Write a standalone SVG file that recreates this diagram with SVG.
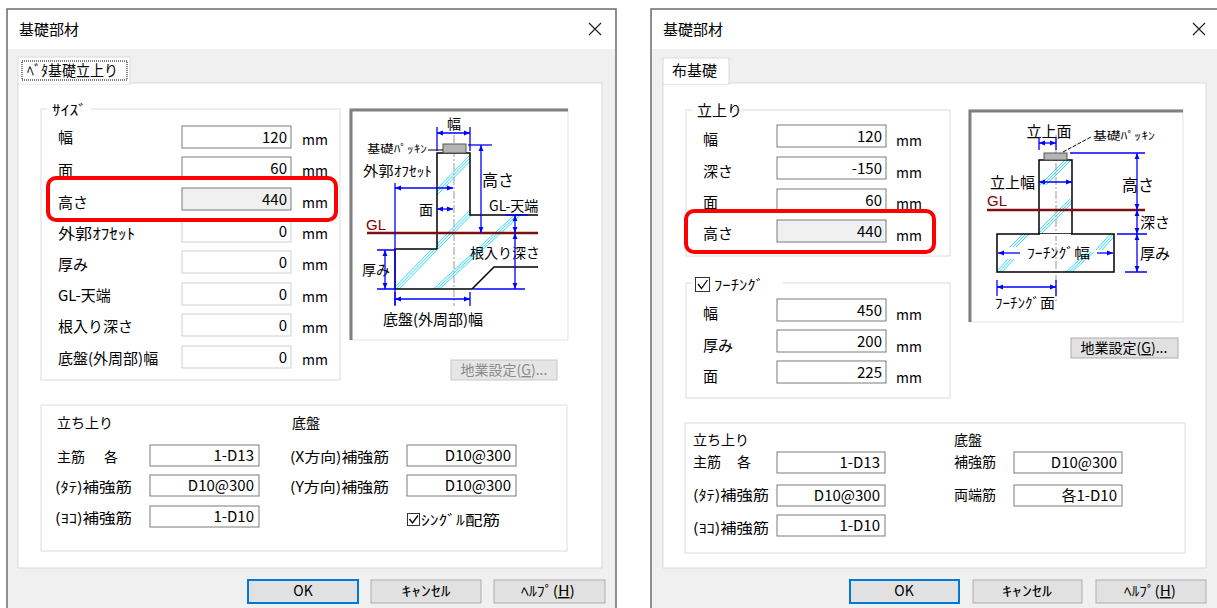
<svg xmlns="http://www.w3.org/2000/svg" width="1217" height="608" viewBox="0 0 1217 608">
<style>
.t{font-family:"Noto Sans CJK JP","Noto Sans CJK SC",sans-serif;font-size:15px;fill:#000}
.s{font-size:14px}
.xs{font-size:11px}
.v{text-anchor:end}
.c{text-anchor:middle}
.gr{fill:#8a8a8a}
.gl{fill:#800000;font-family:"Liberation Sans",sans-serif;font-size:15px}
.box{fill:#fff;stroke:#7a7a7a;stroke-width:1}
.boxd{fill:#fff;stroke:#cfcfcf;stroke-width:1}
.boxg{fill:#f0f0f0;stroke:#7a7a7a;stroke-width:1}
.grp{fill:none;stroke:#dcdcdc;stroke-width:1}
.btn{fill:#e1e1e1;stroke:#adadad;stroke-width:1}
.dim{stroke:#0000ff;stroke-width:1.3;fill:none}
.da{stroke:#0000ff;stroke-width:1.3;fill:none;marker-start:url(#ah);marker-end:url(#ah)}
.d1{stroke:#0000ff;stroke-width:1.3;fill:none;marker-end:url(#ah)}
.obj{stroke:#000;stroke-width:1.5;fill:none}
.h{stroke:#30dcff;stroke-width:1}
.red{fill:none;stroke:#ff0000;stroke-width:4}
.ctr{stroke:#999;stroke-width:1;stroke-dasharray:8,2,2,2}
.glline{stroke:#7a1010;stroke-width:2.5}
.pk{fill:#b4b4b4;stroke:#555;stroke-width:1}
</style>
<defs>
<marker id="ah" viewBox="0 0 10 10" refX="10" refY="5" markerWidth="6" markerHeight="6" orient="auto-start-reverse" markerUnits="userSpaceOnUse"><path d="M0,1 L10,5 L0,9 z" fill="#0000ff"/></marker>
<clipPath id="clipL"><polygon points="437,153 470,153 470,215 538,215 538,267 494,267 472,289 395,289 395,249 437,249"/></clipPath>
<clipPath id="clipR"><polygon points="1039,160 1072,160 1072,234 1114,234 1114,272 997,272 997,234 1039,234"/></clipPath>
</defs>
<rect x="0" y="0" width="1217" height="608" fill="#fff"/>

<!-- LEFT DIALOG -->
<g id="dialog-left">
<rect x="7" y="9" width="609" height="610" fill="#f0f0f0" stroke="#6e6e6e" stroke-width="1.5"/>
<rect x="8" y="10" width="607" height="39" fill="#fff"/>
<text class="t" x="19" y="35">基礎部材</text>
<path d="M589,23 L601,35 M601,23 L589,35" stroke="#222" stroke-width="1.2"/>
<rect x="18" y="83" width="584" height="485" fill="#fff" stroke="#d9d9d9"/>
<g id="tab-left">
<rect x="18" y="57" width="112" height="27" fill="#fff" stroke="#d9d9d9"/>
<line x1="19" y1="83" x2="129" y2="83" stroke="#fff" stroke-width="1.5"/>
<rect x="22" y="61" width="105" height="19" fill="none" stroke="#000" stroke-dasharray="1,1"/>
<text class="t" x="27" y="76" textLength="91" lengthAdjust="spacingAndGlyphs">ﾍﾞﾀ基礎立上り</text>
</g>

<g id="size-group">
<rect class="grp" x="41" y="109" width="299" height="271"/>
<rect x="47" y="102" width="44" height="14" fill="#fff"/>
<text class="t s" x="52" y="115" textLength="35" lengthAdjust="spacingAndGlyphs">ｻｲｽﾞ</text>
</g>
<g id="f-haba"><text class="t" x="58" y="143">幅</text><rect class="box" x="182" y="126" width="109" height="22"/><text class="t v" x="287" y="143">120</text><text class="t s" x="302" y="145">mm</text></g>
<g id="f-men"><text class="t" x="58" y="176">面</text><rect class="box" x="182" y="157" width="109" height="22"/><text class="t v" x="287" y="174">60</text><text class="t s" x="302" y="176">mm</text></g>
<g id="f-takasa"><text class="t" x="58" y="208">高さ</text><rect class="boxg" x="182" y="188" width="109" height="22"/><text class="t v" x="287" y="205">440</text><text class="t s" x="302" y="208">mm</text></g>
<g id="f-offset"><text class="t" x="58" y="239" textLength="77" lengthAdjust="spacingAndGlyphs">外郭ｵﾌｾｯﾄ</text><rect class="boxd" x="182" y="220" width="109" height="22"/><text class="t v" x="287" y="237" fill="#444">0</text><text class="t s" x="302" y="239">mm</text></g>
<g id="f-atsumi"><text class="t" x="58" y="270">厚み</text><rect class="boxd" x="182" y="251" width="109" height="22"/><text class="t v" x="287" y="268" fill="#444">0</text><text class="t s" x="302" y="270">mm</text></g>
<g id="f-gl"><text class="t" x="58" y="301">GL-天端</text><rect class="boxd" x="182" y="283" width="109" height="22"/><text class="t v" x="287" y="300" fill="#444">0</text><text class="t s" x="302" y="302">mm</text></g>
<g id="f-neiri"><text class="t" x="58" y="332">根入り深さ</text><rect class="boxd" x="182" y="314" width="109" height="22"/><text class="t v" x="287" y="331" fill="#444">0</text><text class="t s" x="302" y="333">mm</text></g>
<g id="f-teiban"><text class="t" x="58" y="364">底盤(外周部)幅</text><rect class="boxd" x="182" y="346" width="109" height="22"/><text class="t v" x="287" y="363" fill="#444">0</text><text class="t s" x="302" y="365">mm</text></g>
<rect id="highlight-left" class="red" x="48" y="178" width="288" height="42" rx="8"/>

<g id="diagram-left">
<rect x="350" y="109" width="218" height="231" fill="#fff" stroke="#e3e3e3"/>
<path d="M351,340 L351,110 L568,110" fill="none" stroke="#808080" stroke-width="3"/>
<g clip-path="url(#clipL)">
<path class="h" d="M430,196 L475,150 M433,196 L478,150 M436,196 L481,150"/>
<path class="h" d="M390,292 L478,202 M393,292 L481,202 M396,292 L484,202"/>
<path class="h" d="M428,294 L520,210 M431,294 L523,210 M434,294 L526,210"/>
</g>
<line class="ctr" x1="454" y1="135" x2="454" y2="306"/>
<polyline class="obj" points="437,249 437,153 470,153 470,215 538,215"/>
<polyline class="obj" points="437,249 395,249 395,289 472,289 494,267 538,267"/>
<rect class="pk" x="443" y="144" width="23" height="9"/>
<line x1="367" y1="233" x2="538" y2="233" class="glline"/>
<text class="gl" x="366" y="230">GL</text>
<text class="t xs" x="367" y="153" textLength="60" lengthAdjust="spacingAndGlyphs">基礎ﾊﾟｯｷﾝ</text>
<line x1="428" y1="150" x2="443" y2="150" stroke="#000" stroke-width="1"/>
<path class="dim" d="M437,127 L437,151 M470,127 L470,151"/>
<line class="da" x1="437" y1="133" x2="470" y2="133"/>
<text class="t s c" x="454" y="129">幅</text>
<path class="dim" d="M468,145 L492,145"/>
<line class="da" x1="481" y1="145" x2="481" y2="233"/>
<text class="t" x="482" y="186" style="font-size:16px">高さ</text>
<text class="t s" x="363" y="176" textLength="69" lengthAdjust="spacingAndGlyphs">外郭ｵﾌｾｯﾄ</text>
<path class="dim" d="M395,183 L395,305"/>
<line class="da" x1="395" y1="188" x2="453" y2="188"/>
<text class="t s" x="419" y="215">面</text>
<line class="da" x1="437" y1="209" x2="453" y2="209"/>
<text class="t s" x="489" y="211">GL-天端</text>
<path class="dim" d="M505,215 L528,215"/>
<line class="da" x1="515" y1="215" x2="515" y2="233"/>
<text class="t s" x="470" y="258">根入り深さ</text>
<path class="dim" d="M473,289 L525,289"/>
<line class="da" x1="515" y1="233" x2="515" y2="289"/>
<text class="t s" x="362" y="275">厚み</text>
<path class="dim" d="M377,250 L395,250 M377,289 L395,289"/>
<line class="da" x1="385" y1="250" x2="385" y2="289"/>
<path class="dim" d="M395,292 L395,306 M470,292 L470,306"/>
<line class="da" x1="395" y1="299" x2="470" y2="299"/>
<text class="t c" x="433" y="325">底盤(外周部)幅</text>
</g>
<g id="btn-jigyo-left">
<rect x="451" y="360" width="106" height="20" fill="#e6e6e6" stroke="#c8c8c8"/>
<text class="t s c gr" x="504" y="375">地業設定(<tspan text-decoration="underline">G</tspan>)...</text>
</g>

<g id="rebar-group-left">
<rect class="grp" x="41" y="405" width="526" height="146"/>
<text class="t s" x="57" y="428">立ち上り</text>
<text class="t s" x="292" y="428">底盤</text>
<g id="f-shukin-l"><text class="t s" x="57" y="462">主筋 <tspan x="104">各</tspan></text><rect class="box" x="150" y="445" width="109" height="21"/><text class="t v" x="254" y="461">1-D13</text></g>
<g id="f-tate-l"><text class="t s" x="55" y="492" textLength="77" lengthAdjust="spacingAndGlyphs">(ﾀﾃ)補強筋</text><rect class="box" x="150" y="475" width="109" height="21"/><text class="t v" x="254" y="491">D10@300</text></g>
<g id="f-yoko-l"><text class="t s" x="55" y="523" textLength="77" lengthAdjust="spacingAndGlyphs">(ﾖｺ)補強筋</text><rect class="box" x="150" y="506" width="109" height="21"/><text class="t v" x="254" y="522">1-D10</text></g>
<g id="f-x-l"><text class="t s" x="290" y="462" textLength="99" lengthAdjust="spacingAndGlyphs">(X方向)補強筋</text><rect class="box" x="407" y="445" width="109" height="21"/><text class="t v" x="511" y="461">D10@300</text></g>
<g id="f-y-l"><text class="t s" x="290" y="492" textLength="99" lengthAdjust="spacingAndGlyphs">(Y方向)補強筋</text><rect class="box" x="407" y="475" width="109" height="21"/><text class="t v" x="511" y="491">D10@300</text></g>
<g id="f-single"><rect x="407.5" y="513.5" width="12" height="12" fill="#fff" stroke="#333"/><path d="M409.5,519 L412.5,523 L418,515.5" fill="none" stroke="#000" stroke-width="1.3"/><text class="t s" x="421" y="525" textLength="79" lengthAdjust="spacingAndGlyphs">ｼﾝｸﾞﾙ配筋</text></g>
</g>
<g id="buttons-left">
<rect x="248" y="580" width="110" height="23" fill="#e1e1e1" stroke="#0078d7" stroke-width="2"/>
<text class="t s c" x="303" y="596">OK</text>
<rect class="btn" x="371" y="580" width="110" height="23"/>
<text class="t s c" x="426" y="596" textLength="49" lengthAdjust="spacingAndGlyphs">ｷｬﾝｾﾙ</text>
<rect class="btn" x="494" y="580" width="111" height="23"/>
<text class="t s c" x="548" y="596" textLength="54" lengthAdjust="spacingAndGlyphs">ﾍﾙﾌﾟ(<tspan text-decoration="underline">H</tspan>)</text>
</g>
</g>

<!-- RIGHT DIALOG -->
<g id="dialog-right">
<rect x="651" y="9" width="600" height="610" fill="#f0f0f0" stroke="#6e6e6e" stroke-width="1.5"/>
<rect x="652" y="10" width="598" height="39" fill="#fff"/>
<text class="t" x="663" y="35">基礎部材</text>
<path d="M1193,23 L1205,35 M1205,23 L1193,35" stroke="#222" stroke-width="1.2"/>
<rect x="663" y="83" width="543" height="485" fill="#fff" stroke="#d9d9d9"/>
<g id="tab-right">
<rect x="663" y="58" width="66" height="26" fill="#fff" stroke="#d9d9d9"/>
<line x1="664" y1="83" x2="728" y2="83" stroke="#fff" stroke-width="1.5"/>
<text class="t" x="672" y="76">布基礎</text>
</g>

<g id="tachiagari-group">
<rect class="grp" x="686" y="110" width="264" height="146"/>
<rect x="692" y="102" width="42" height="16" fill="#fff"/>
<text class="t" x="697" y="116">立上り</text>
</g>
<g id="r-haba"><text class="t" x="703" y="145">幅</text><rect class="box" x="777" y="125" width="109" height="22"/><text class="t v" x="882" y="142">120</text><text class="t s" x="896" y="146">mm</text></g>
<g id="r-fukasa"><text class="t" x="703" y="177">深さ</text><rect class="box" x="777" y="157" width="109" height="22"/><text class="t v" x="882" y="174">-150</text><text class="t s" x="896" y="178">mm</text></g>
<g id="r-men"><text class="t" x="703" y="208">面</text><rect class="box" x="777" y="189" width="109" height="22"/><text class="t v" x="882" y="206">60</text><text class="t s" x="896" y="209">mm</text></g>
<g id="r-takasa"><text class="t" x="703" y="239">高さ</text><rect class="boxg" x="777" y="220" width="109" height="22"/><text class="t v" x="882" y="237">440</text><text class="t s" x="896" y="241">mm</text></g>
<rect id="highlight-right" class="red" x="686" y="211" width="248" height="41" rx="8"/>

<g id="footing-group">
<rect class="grp" x="686" y="283" width="264" height="115"/>
<rect x="692" y="274" width="91" height="18" fill="#fff"/>
<rect x="695.5" y="277.5" width="14" height="14" fill="#fff" stroke="#333"/>
<path d="M698,284 L701.5,288.5 L707.5,280" fill="none" stroke="#000" stroke-width="1.3"/>
<text class="t s" x="714" y="290" textLength="50" lengthAdjust="spacingAndGlyphs">ﾌｰﾁﾝｸﾞ</text>
</g>
<g id="r-f-haba"><text class="t" x="703" y="319">幅</text><rect class="box" x="777" y="299" width="109" height="22"/><text class="t v" x="882" y="316">450</text><text class="t s" x="896" y="320">mm</text></g>
<g id="r-f-atsumi"><text class="t" x="703" y="351">厚み</text><rect class="box" x="777" y="330" width="109" height="22"/><text class="t v" x="882" y="347">200</text><text class="t s" x="896" y="352">mm</text></g>
<g id="r-f-men"><text class="t" x="703" y="382">面</text><rect class="box" x="777" y="361" width="109" height="22"/><text class="t v" x="882" y="378">225</text><text class="t s" x="896" y="383">mm</text></g>

<g id="diagram-right">
<rect x="969" y="110" width="214" height="212" fill="#fff" stroke="#e3e3e3"/>
<path d="M970,322 L970,111 L1183,111" fill="none" stroke="#808080" stroke-width="3"/>
<g clip-path="url(#clipR)">
<path class="h" d="M1040,185 L1070,155 M1043,185 L1073,155 M1046,185 L1076,155"/>
<path class="h" d="M1036,233 L1070,199 M1039,233 L1073,199 M1042,233 L1076,199"/>
<path class="h" d="M1010,247 L1026,231 M1013,247 L1029,231 M1016,247 L1032,231"/>
<path class="h" d="M1096,250 L1112,232 M1099,250 L1115,232 M1102,250 L1118,232"/>
<path class="h" d="M996,272 L1008,259 M999,272 L1011,259 M1002,272 L1014,259"/>
<path class="h" d="M1066,272 L1088,252 M1069,272 L1091,252 M1072,272 L1094,252"/>
</g>
<line class="ctr" x1="1056" y1="135" x2="1056" y2="302"/>
<polyline class="obj" points="1039,234 1039,160 1072,160 1072,234"/>
<polygon class="obj" points="997,234 1114,234 1114,272 997,272"/>
<rect x="1040" y="234" width="31" height="2" fill="#fff"/>
<rect class="pk" x="1044" y="153" width="23" height="7"/>
<line x1="987" y1="210" x2="1145" y2="210" class="glline"/>
<text class="gl" x="987" y="206">GL</text>
<text class="t c" x="1049" y="137">立上面</text>
<path class="dim" d="M1039,137 L1039,150 M1056,137 L1056,150"/>
<line class="da" x1="1039" y1="143" x2="1056" y2="143"/>
<text class="t xs" x="1093" y="140" textLength="62" lengthAdjust="spacingAndGlyphs">基礎ﾊﾟｯｷﾝ</text>
<line x1="1063" y1="152" x2="1091" y2="137" stroke="#000" stroke-width="1" stroke-dasharray="4,1.5"/>
<path class="dim" d="M1070,153 L1145,153"/>
<line class="da" x1="1137" y1="153" x2="1137" y2="210"/>
<text class="t" x="1122" y="191" style="font-size:16px">高さ</text>
<text class="t" x="990" y="188">立上幅</text>
<line class="da" x1="1039" y1="182" x2="1072" y2="182"/>
<line class="da" x1="1137" y1="210" x2="1137" y2="234"/>
<text class="t" x="1140" y="228">深さ</text>
<path class="dim" d="M1117,234 L1147,234 M1125,272 L1147,272"/>
<line class="da" x1="1137" y1="234" x2="1137" y2="272"/>
<text class="t" x="1140" y="259">厚み</text>
<line class="d1" x1="1020" y1="253" x2="998" y2="253"/>
<line class="d1" x1="1097" y1="253" x2="1113" y2="253"/>
<text class="t s" x="1027" y="258" textLength="63" lengthAdjust="spacingAndGlyphs">ﾌｰﾁﾝｸﾞ幅</text>
<path class="dim" d="M997,280 L997,296 M1056,280 L1056,296"/>
<line class="da" x1="997" y1="287" x2="1056" y2="287"/>
<text class="t s" x="995" y="308" textLength="60" lengthAdjust="spacingAndGlyphs">ﾌｰﾁﾝｸﾞ面</text>
</g>
<g id="btn-jigyo-right">
<rect class="btn" x="1071" y="338" width="107" height="20"/>
<text class="t s c" x="1124" y="353">地業設定(<tspan text-decoration="underline">G</tspan>)...</text>
</g>

<g id="rebar-group-right">
<rect class="grp" x="685" y="423" width="500" height="130"/>
<text class="t s" x="693" y="445">立ち上り</text>
<text class="t s" x="954" y="445">底盤</text>
<g id="r-shukin"><text class="t s" x="693" y="467">主筋 <tspan x="737">各</tspan></text><rect class="box" x="777" y="452" width="108" height="21"/><text class="t v" x="880" y="468">1-D13</text></g>
<g id="r-tate"><text class="t s" x="693" y="500" textLength="76" lengthAdjust="spacingAndGlyphs">(ﾀﾃ)補強筋</text><rect class="box" x="777" y="485" width="108" height="21"/><text class="t v" x="880" y="501">D10@300</text></g>
<g id="r-yoko"><text class="t s" x="693" y="533" textLength="76" lengthAdjust="spacingAndGlyphs">(ﾖｺ)補強筋</text><rect class="box" x="777" y="515" width="108" height="21"/><text class="t v" x="880" y="531">1-D10</text></g>
<g id="r-hokyo"><text class="t s" x="954" y="467">補強筋</text><rect class="box" x="1014" y="452" width="108" height="21"/><text class="t v" x="1117" y="468">D10@300</text></g>
<g id="r-ryotan"><text class="t s" x="954" y="500">両端筋</text><rect class="box" x="1014" y="485" width="108" height="21"/><text class="t v" x="1117" y="501">各1-D10</text></g>
</g>
<g id="buttons-right">
<rect x="850" y="580" width="109" height="23" fill="#e1e1e1" stroke="#0078d7" stroke-width="2"/>
<text class="t s c" x="904" y="596">OK</text>
<rect class="btn" x="973" y="580" width="109" height="23"/>
<text class="t s c" x="1027" y="596" textLength="50" lengthAdjust="spacingAndGlyphs">ｷｬﾝｾﾙ</text>
<rect class="btn" x="1096" y="580" width="110" height="23"/>
<text class="t s c" x="1150" y="596" textLength="52" lengthAdjust="spacingAndGlyphs">ﾍﾙﾌﾟ(<tspan text-decoration="underline">H</tspan>)</text>
</g>
</g>
</svg>
